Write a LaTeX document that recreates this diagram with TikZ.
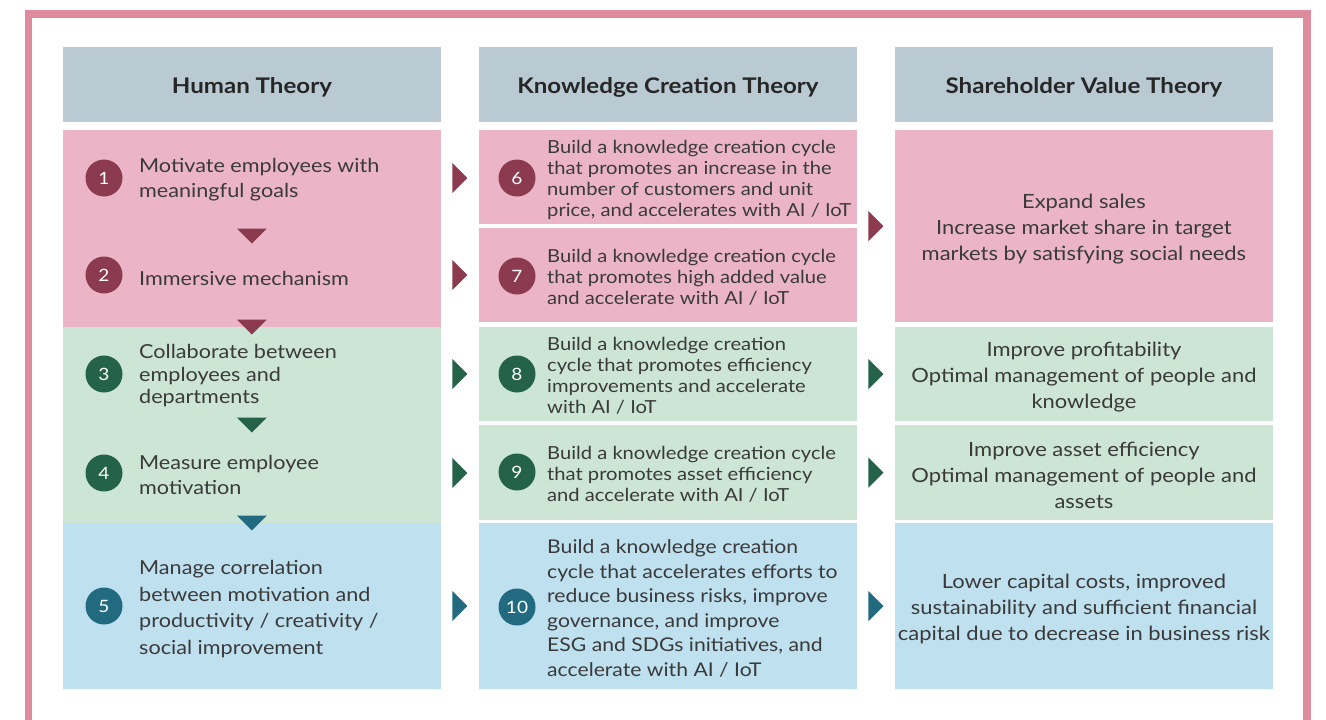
\documentclass[tikz,border=0pt]{standalone}
\usepackage{fontspec}
\setmainfont{Lato}[FakeStretch=1.12]
\usetikzlibrary{calc}
\definecolor{framepink}{HTML}{DE8BA0}
\definecolor{headbg}{HTML}{B9CAD3}
\definecolor{pinkbg}{HTML}{EBB5C7}
\definecolor{pinkdk}{HTML}{8B3A4F}
\definecolor{greenbg}{HTML}{CCE5D5}
\definecolor{greendk}{HTML}{24634A}
\definecolor{bluebg}{HTML}{BEE0EF}
\definecolor{bluedk}{HTML}{226A80}
\definecolor{txtgray}{HTML}{3A3A3A}
\tikzset{
  cell/.style={fill=#1, inner sep=0pt, anchor=north west, minimum width=377.5pt},
  head/.style={cell=headbg, minimum height=75pt, text=black!85,
    font=\bfseries\fontsize{21.5}{25}\selectfont},
  headtxt/.style={inner sep=0pt, text=black!85, yshift=-2.5pt,
    font=\bfseries\fontsize{21.5}{25}\selectfont},
  num/.style={circle, fill=#1, text=white, minimum size=37pt, inner sep=0pt,
    font=\fontsize{17}{17}\selectfont},
  htxt/.style={anchor=west, align=left, inner sep=0pt, text=txtgray, yshift=-2pt,
    font=\fontsize{19.3}{25}\selectfont},
  ktxt/.style={anchor=west, align=left, inner sep=0pt, text=txtgray, yshift=-1.5pt,
    font=\fontsize{18}{21}\selectfont},
  stxt/.style={align=center, inner sep=0pt, text=txtgray, yshift=-3pt,
    font=\fontsize{19.6}{26}\selectfont},
}
% triangles between the cells
\newcommand{\rtri}[3]{\fill[#1] ($(#2)!.5!(#3)$) +(7.5,0) -- +(-7.5,-15) -- +(-7.5,15) -- cycle;}
\newcommand{\dtri}[2]{\fill[#1] (#2) +(0,7.5) -- +(-15,-7.5) -- +(15,-7.5) -- cycle;}
\begin{document}
\begin{tikzpicture}[x=1pt,y=-1pt]
  \def\xa{63} \def\xb{479} \def\xc{895}
  \useasboundingbox (0,0) rectangle (1326,720);
  \clip (0,0) rectangle (1326,720);
  \draw[framepink, line width=7.5pt] (28.5,740) -- (28.5,14) -- (1307,14) -- (1307,740);

  % headers
  \node[head] (hdH) at (\xa,47) {};
  \node[head] (hdK) at (\xb,47) {};
  \node[head] (hdS) at (\xc,47) {};
  \node[headtxt] at (hdH.center) {Human Theory};
  \node[headtxt] at (hdK.center) {Knowledge Creation Theory};
  \node[headtxt] at (hdS.center) {Shareholder Value Theory};

  % human theory
  \node[cell=pinkbg, minimum height=106pt] (hum1) at (\xa,130) {};
  \node[cell=pinkbg, minimum height=91pt] (hum2) at (\xa,236) {};
  \node[cell=greenbg, minimum height=98pt] (hum3) at (\xa,327) {};
  \node[cell=greenbg, minimum height=98pt] (hum4) at (\xa,425) {};
  \node[cell=bluebg, minimum height=166pt] (hum5) at (\xa,523) {};

  % knowledge creation theory
  \node[cell=pinkbg, minimum height=94pt] (kn6) at (\xb,130) {};
  \node[cell=pinkbg, minimum height=94pt] (kn7) at (\xb,228) {};
  \node[cell=greenbg, minimum height=94pt] (kn8) at (\xb,327) {};
  \node[cell=greenbg, minimum height=95pt] (kn9) at (\xb,425) {};
  \node[cell=bluebg, minimum height=166pt] (kn10) at (\xb,523) {};

  % shareholder value theory
  \node[cell=pinkbg, minimum height=192pt] (sh1) at (\xc,130) {};
  \node[cell=greenbg, minimum height=94pt] (sh2) at (\xc,327) {};
  \node[cell=greenbg, minimum height=95pt] (sh3) at (\xc,425) {};
  \node[cell=bluebg, minimum height=166pt] (sh4) at (\xc,523) {};

  % numbers
  \node[num=pinkdk] (n1) at (104,178) {1};
  \node[num=pinkdk] (n2) at (104,275) {2};
  \node[num=greendk] (n3) at (104,374) {3};
  \node[num=greendk] (n4) at (104,473) {4};
  \node[num=bluedk] (n5) at (104,606) {5};
  \node[num=pinkdk] (n6) at (517,178) {6};
  \node[num=pinkdk] (n7) at (517,276) {7};
  \node[num=greendk] (n8) at (517,374) {8};
  \node[num=greendk] (n9) at (517,472) {9};
  \node[num=bluedk] (n10) at (517,607) {10};

  % texts
  \node[htxt] (t1) at (139,178) {Motivate employees with\\meaningful goals};
  \node[htxt] (t2) at (139,276) {Immersive mechanism};
  \node[htxt, font=\fontsize{19.3}{22.5}\selectfont] (t3) at (139,374) {Collaborate between\\employees and\\departments};
  \node[htxt] (t4) at (139,473) {Measure employee\\motivation};
  \node[htxt, font=\fontsize{19.3}{26.5}\selectfont] (t5) at (139,607) {Manage correlation\\between motivation and\\productivity / creativity /\\social improvement};
  \node[ktxt] (t6) at (547,178) {Build a knowledge creation cycle\\that promotes an increase in the\\number of customers and unit\\price, and accelerates with AI / IoT};
  \node[ktxt] (t7) at (547,276) {Build a knowledge creation cycle\\that promotes high added value\\and accelerate with AI / IoT};
  \node[ktxt] (t8) at (547,374) {Build a knowledge creation\\cycle that promotes efficiency\\improvements and accelerate\\with AI / IoT};
  \node[ktxt] (t9) at (547,473) {Build a knowledge creation cycle\\that promotes asset efficiency\\and accelerate with AI / IoT};
  \node[ktxt, font=\fontsize{18.9}{24.6}\selectfont] (t10) at (547,607) {Build a knowledge creation\\cycle that accelerates efforts to\\reduce business risks, improve\\governance, and improve\\ESG and SDGs initiatives, and\\accelerate with AI / IoT};
  \node[stxt] (s1) at (sh1.center) {Expand sales\\Increase market share in target\\markets by satisfying social needs};
  \node[stxt] (s2) at (sh2.center) {Improve profitability\\Optimal management of people and\\knowledge};
  \node[stxt] (s3) at (sh3.center) {Improve asset efficiency\\Optimal management of people and\\assets};
  \node[stxt] (s4) at (sh4.center) {Lower capital costs, improved\\sustainability and sufficient financial\\capital due to decrease in business risk};

  % arrows down
  \dtri{pinkdk}{hum2.north}
  \dtri{pinkdk}{hum3.north}
  \dtri{greendk}{hum4.north}
  \dtri{bluedk}{hum5.north}

  % arrows right
  \rtri{pinkdk}{hum1.east|-n1}{kn6.west|-n1}
  \rtri{pinkdk}{hum2.east|-n2}{kn7.west|-n2}
  \rtri{pinkdk}{kn6.east|-sh1}{sh1.west}
  \rtri{greendk}{hum3.east|-n3}{kn8.west|-n3}
  \rtri{greendk}{kn8.east|-sh2}{sh2.west}
  \rtri{greendk}{hum4.east|-n4}{kn9.west|-n4}
  \rtri{greendk}{kn9.east|-sh3}{sh3.west}
  \rtri{bluedk}{hum5.east|-n5}{kn10.west|-n5}
  \rtri{bluedk}{kn10.east|-sh4}{sh4.west}
\end{tikzpicture}
\end{document}
